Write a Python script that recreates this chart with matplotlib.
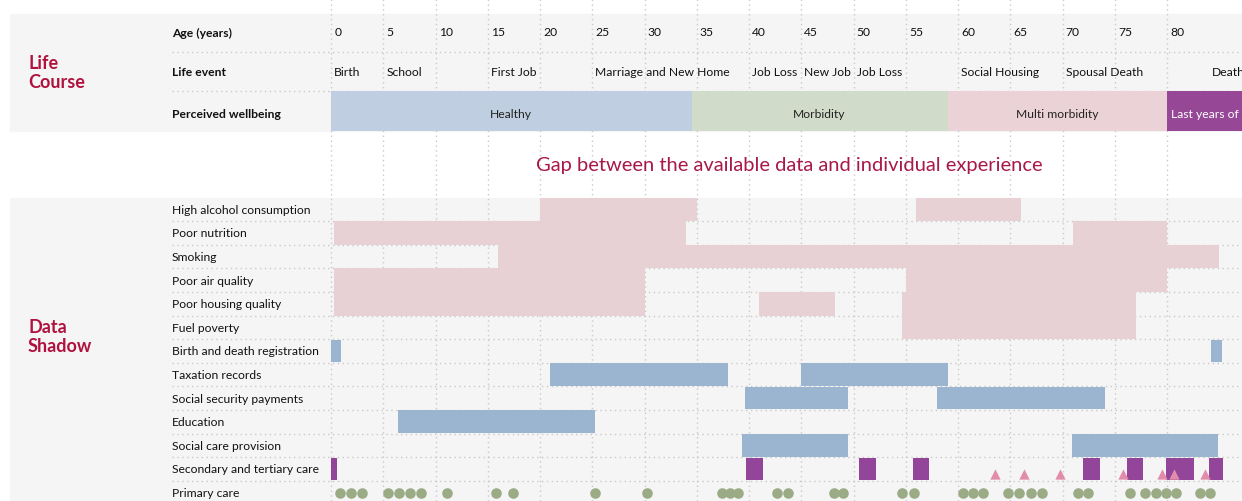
import matplotlib
matplotlib.use("Agg")
import matplotlib.pyplot as plt
from matplotlib.patches import Rectangle

plt.rcParams["font.family"] = ["Lato", "DejaVu Sans"]

# ---- data ----
age_ticks = list(range(0, 81, 5))

life_events = ["Birth", "School", "First Job", "Marriage and New Home", "Job Loss",
               "New Job", "Job Loss", "Social Housing", "Spousal Death", "Death"]
event_ages = [0, 5, 15, 25, 40, 45, 50, 60, 70, 84]

stages = ["Healthy", "Morbidity", "Multi morbidity", "Last years of life"]
stage_start = [0, 34.5, 59, 80]
stage_end = [34.5, 59, 80, 95]
stage_colors = ["#bfcfe1", "#d0dcc9", "#ebd2d7", "#964896"]

row_labels = ["High alcohol consumption", "Poor nutrition", "Smoking", "Poor air quality",
              "Poor housing quality", "Fuel poverty", "Birth and death registration",
              "Taxation records", "Social security payments", "Education",
              "Social care provision", "Secondary and tertiary care", "Primary care"]

# exposures (pink)
high_alcohol = [(20, 35), (56, 66)]
poor_nutrition = [(0.3, 34), (71, 80)]
smoking = [(16, 85)]
poor_air = [(0.3, 30), (55, 80)]
poor_housing = [(0.3, 30), (41, 48.2), (54.6, 77)]
fuel_poverty = [(54.6, 77)]
# records (blue)
birth_death = [(0, 1), (84.2, 85.3)]
taxation = [(21, 38), (45, 59)]
social_security = [(39.6, 49.5), (58, 74.1)]
education = [(6.4, 25.3)]
social_care = [(39.3, 49.5), (70.9, 84.9)]
# hospital episodes (purple)
secondary_care = [(0, 0.55), (39.7, 41.3), (50.5, 52.2), (55.7, 57.2), (72, 73.6),
                  (76.2, 77.7), (79.9, 82.6), (84, 85.4)]
# unrecorded episodes (pink triangles)
triangle_ages = [63.5, 66.3, 69.8, 75.8, 79.5, 80.7, 83.6]
# primary care visits (green dots)
visit_ages = [0.9, 1.9, 3.0, 5.5, 6.5, 7.6, 8.6, 11.1, 15.8, 17.4, 25.3, 30.2,
              37.4, 38.2, 38.9, 42.7, 43.7, 48.1, 49.0, 54.6, 55.8, 60.5, 61.4,
              62.4, 64.8, 65.8, 67.0, 68.0, 71.5, 72.4, 76.5, 77.9, 78.9, 79.9,
              80.9, 83.2, 84.1]

pink_rows = [high_alcohol, poor_nutrition, smoking, poor_air, poor_housing, fuel_poverty]
blue_rows = [birth_death, taxation, social_security, education, social_care]

# ---- layout ----
W, H = 1242, 502
X0, PPY = 331, 10.45          # pixel of age 0, pixels per year


def px(x):
    return (x - X0) / PPY


RED = "#b0123f"
GRID = "#c9c9c9"
BG = "#f5f5f5"
FS = 8.7

fig = plt.figure(figsize=(W / 100, H / 100), dpi=100)
ax = fig.add_axes([0, 0, 1, 1])
ax.set_xlim(px(0), px(W))
ax.set_ylim(H, 0)
ax.axis("off")

# panel backgrounds
ax.add_patch(Rectangle((px(10), 15), px(W + 10) - px(10), 117, color=BG, zorder=0))
ax.add_patch(Rectangle((px(10), 199), px(W + 10) - px(10), 310, color=BG, zorder=0))

# vertical dotted grid
for a in age_ticks:
    ax.plot([a, a], [0, H], color=GRID, ls=(0, (1, 2.5)), lw=1, zorder=1)

# ---- life course panel ----
for yy in [53, 92]:
    ax.plot([px(172), px(W)], [yy, yy], color=GRID, ls=(0, (1, 2.5)), lw=1, zorder=1)

top_rows = ["Age (years)", "Life event", "Perceived wellbeing"]
top_y = [33, 73, 114]
for lab, yy in zip(top_rows, top_y):
    ax.text(px(172), yy, lab, fontsize=FS, fontweight="bold", color="#111111",
            ha="left", va="center")

for a in age_ticks:
    ax.text(a + 0.3, 33, str(a), fontsize=FS, color="#111111", ha="left", va="center")

for ev, a in zip(life_events, event_ages):
    ax.text(a + 0.3, 73, ev, fontsize=FS, color="#111111", ha="left", va="center")

for i, (st, s, e, c) in enumerate(zip(stages, stage_start, stage_end, stage_colors)):
    ax.add_patch(Rectangle((s, 92), e - s, 40, color=c, lw=0, zorder=2))
    if i < len(stages) - 1:
        ax.text((s + e) / 2, 115, st, fontsize=FS, color="#222222",
                ha="center", va="center", zorder=3)
    else:
        ax.text(s + 0.4, 115, st, fontsize=FS, color="white",
                ha="left", va="center", zorder=3)

ax.text(px(28), 73, "Life\nCourse", fontsize=13, fontweight="bold", color=RED,
        ha="left", va="center", linespacing=1.15)

ax.text(px(789), 166, "Gap between the available data and individual experience",
        fontsize=14.5, color="#a8184a", ha="center", va="center")

# ---- data shadow panel ----
ROW0, ROWH = 198.5, 23.6
row_top = [ROW0 + i * ROWH for i in range(len(row_labels))]
row_mid = [t + ROWH / 2 for t in row_top]

for t in row_top[1:]:
    ax.plot([px(172), px(W)], [t, t], color=GRID, ls=(0, (1, 2.5)), lw=1, zorder=1)

for lab, yy in zip(row_labels, row_mid):
    ax.text(px(172), yy, lab, fontsize=FS, color="#111111", ha="left", va="center")

for i, segs in enumerate(pink_rows):
    ax.broken_barh([(s, e - s) for s, e in segs], (row_top[i], ROWH),
                   facecolor="#e8d1d5", lw=0, zorder=2)

for j, segs in enumerate(blue_rows):
    i = j + len(pink_rows)
    ax.broken_barh([(s, e - s) for s, e in segs], (row_top[i] + 0.5, ROWH - 1),
                   facecolor="#9bb5d0", lw=0, zorder=2)

ax.broken_barh([(s, e - s) for s, e in secondary_care], (row_top[11] + 0.5, ROWH - 1),
               facecolor="#93459a", lw=0, zorder=2)

ax.scatter(triangle_ages, [row_mid[11] + 5] * len(triangle_ages), marker="^",
           s=55, color="#e28cab", lw=0, zorder=3)

ax.scatter(visit_ages, [row_mid[12]] * len(visit_ages), marker="o",
           s=58, color="#9aab86", lw=0, zorder=3)

ax.text(px(28), 337, "Data\nShadow", fontsize=13, fontweight="bold", color=RED,
        ha="left", va="center", linespacing=1.15)

fig.savefig("out.png", dpi=100)
